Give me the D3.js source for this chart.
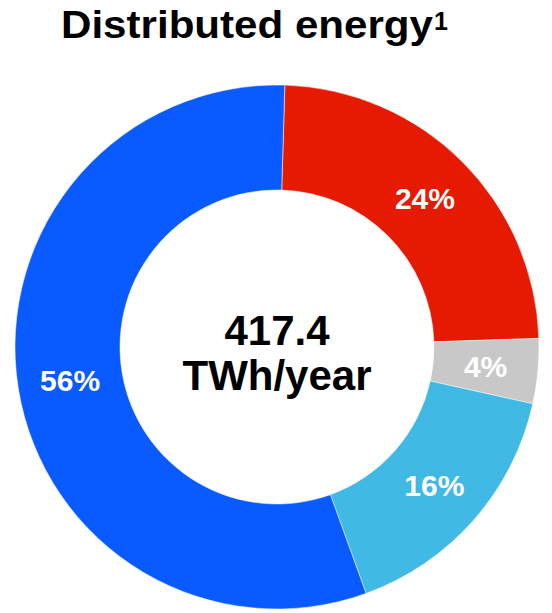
<!DOCTYPE html>
<html>
<head>
<meta charset="utf-8">
<script src="https://cdn.jsdelivr.net/npm/d3@7"></script>
<style>
  body { margin: 0; background: #fff; }
  text { font-family: "Liberation Sans", Arial, sans-serif; font-weight: bold; }
</style>
</head>
<body>
<div class="chart"></div>
<script>
var categories = [`Red`, `Grey`, `Light blue`, `Blue`];
var shares = [24, 4, 16, 56];
var labels = [`24%`, `4%`, `16%`, `56%`];
var colors = [`#e61a00`, `#c8c8c8`, `#40b9e5`, `#0a5bff`];
var totalLabel = [`417.4`, `TWh/year`];

var width = 552;
var height = 613;
var cx = 277, cy = 347;
var outerR = 262, innerR = 157;

var svg = d3.select(`.chart`)
    .append(`svg`)
    .attr(`width`, width)
    .attr(`height`, height)
    .attr(`viewBox`, `0 0 ${width} ${height}`);

// title with superscript footnote
var title = svg.append(`text`)
    .attr(`x`, 61)
    .attr(`y`, 38)
    .style(`font-size`, `38px`)
    .style(`fill`, `#000`);
title.append(`tspan`)
    .attr(`textLength`, 372)
    .attr(`lengthAdjust`, `spacingAndGlyphs`)
    .text(`Distributed energy`);
title.append(`tspan`)
    .attr(`x`, 434)
    .attr(`y`, 30)
    .style(`font-size`, `25px`)
    .text(`1`);

var data = categories.map((c, i) => ({name: c, value: shares[i], label: labels[i], color: colors[i]}));

// slight clockwise offset of the first slice, as in the source
var offset = 0.03;
var pie = d3.pie()
    .sort(null)
    .value(d => d.value)
    .startAngle(offset)
    .endAngle(2 * Math.PI + offset);

var arc = d3.arc()
    .innerRadius(innerR)
    .outerRadius(outerR);

var g = svg.append(`g`)
    .attr(`transform`, `translate(${cx},${cy})`);

g.selectAll(`path`)
    .data(pie(data))
    .enter()
    .append(`path`)
    .attr(`d`, arc)
    .style(`fill`, d => d.data.color)
    .style(`stroke`, `#fff`)
    .style(`stroke-width`, 0.5);

g.selectAll(`.lbl`)
    .data(pie(data))
    .enter()
    .append(`text`)
    .attr(`class`, `lbl`)
    .attr(`transform`, d => `translate(${arc.centroid(d)})`)
    .attr(`text-anchor`, `middle`)
    .attr(`dy`, `0.36em`)
    .style(`font-size`, `30px`)
    .style(`fill`, `#fff`)
    .text(d => d.data.label);

// total in the hole
g.selectAll(`.total`)
    .data(totalLabel)
    .enter()
    .append(`text`)
    .attr(`class`, `total`)
    .attr(`x`, 0)
    .attr(`y`, (d, i) => -2 + i * 45)
    .attr(`text-anchor`, `middle`)
    .style(`font-size`, `42px`)
    .style(`fill`, `#000`)
    .text(d => d);
</script>
</body>
</html>
